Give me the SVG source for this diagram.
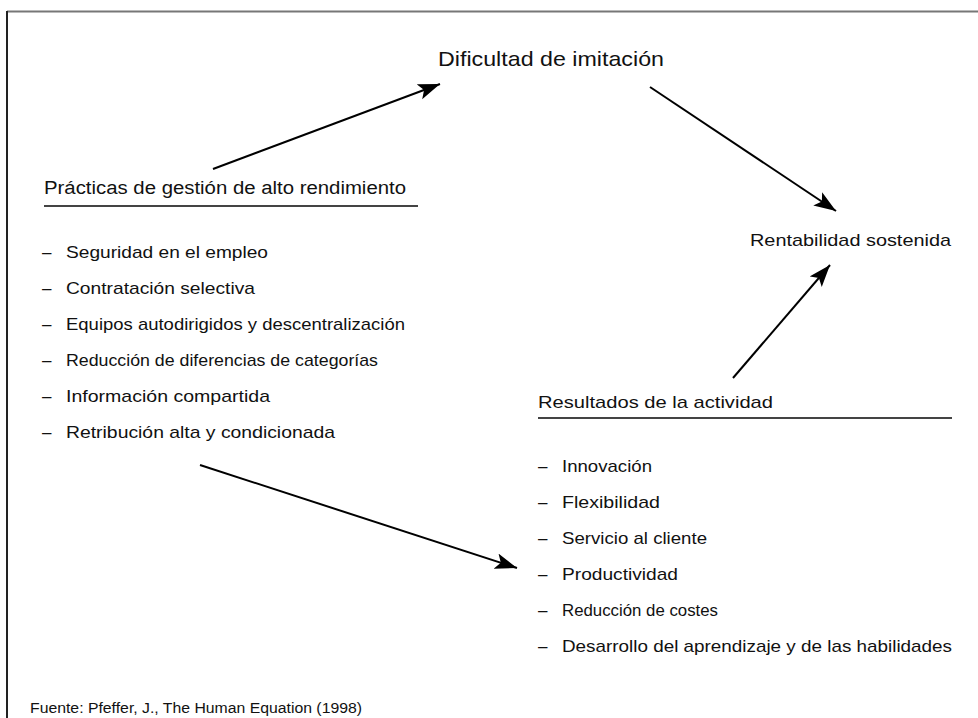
<svg xmlns="http://www.w3.org/2000/svg" width="978" height="718" viewBox="0 0 978 718">
  <defs>
    <marker id="head" markerUnits="userSpaceOnUse" markerWidth="24" markerHeight="18" refX="22" refY="8" orient="auto">
      <path d="M0,0 L22,8 L0,16 L5,8 Z" fill="#000"/>
    </marker>
    <style>
      text { font-family: "Liberation Sans", Arial, sans-serif; fill: #111; }
      .title { font-size: 21px; }
      .head { font-size: 18px; }
      .item { font-size: 17px; }
      .note { font-size: 14px; }
      .rule { stroke: #444; stroke-width: 2; }
      .conn { stroke: #000; stroke-width: 2; fill: none; marker-end: url(#head); }
    </style>
  </defs>
  <rect width="978" height="718" fill="#fff"/>

  <!-- frame -->
  <line x1="7" y1="11.5" x2="978" y2="11.5" stroke="#777" stroke-width="2"/>
  <line x1="7" y1="11" x2="7" y2="718" stroke="#222" stroke-width="2"/>

  <g id="dificultad">
    <text class="title" x="438" y="66" textLength="226" lengthAdjust="spacingAndGlyphs">Dificultad de imitación</text>
  </g>

  <g id="practicas">
    <text class="head" x="44" y="194" textLength="362" lengthAdjust="spacingAndGlyphs">Prácticas de gestión de alto rendimiento</text>
    <line class="rule" x1="44" y1="206" x2="418" y2="206"/>
    <g class="item">
      <text class="item" x="42" y="258">–</text>
      <text class="item" x="66" y="258" textLength="202" lengthAdjust="spacingAndGlyphs">Seguridad en el empleo</text>
      <text class="item" x="42" y="294">–</text>
      <text class="item" x="66" y="294" textLength="189" lengthAdjust="spacingAndGlyphs">Contratación selectiva</text>
      <text class="item" x="42" y="330">–</text>
      <text class="item" x="66" y="330" textLength="339" lengthAdjust="spacingAndGlyphs">Equipos autodirigidos y descentralización</text>
      <text class="item" x="42" y="366">–</text>
      <text class="item" x="66" y="366" textLength="312" lengthAdjust="spacingAndGlyphs">Reducción de diferencias de categorías</text>
      <text class="item" x="42" y="402">–</text>
      <text class="item" x="66" y="402" textLength="204" lengthAdjust="spacingAndGlyphs">Información compartida</text>
      <text class="item" x="42" y="438">–</text>
      <text class="item" x="66" y="438" textLength="269" lengthAdjust="spacingAndGlyphs">Retribución alta y condicionada</text>
    </g>
  </g>

  <g id="rentabilidad">
    <text class="item" x="750" y="246" textLength="201" lengthAdjust="spacingAndGlyphs">Rentabilidad sostenida</text>
  </g>

  <g id="resultados">
    <text class="item" x="538" y="408" textLength="235" lengthAdjust="spacingAndGlyphs">Resultados de la actividad</text>
    <line class="rule" x1="538" y1="418" x2="952" y2="418"/>
    <text class="item" x="538" y="472">–</text>
    <text class="item" x="562" y="472" textLength="90" lengthAdjust="spacingAndGlyphs">Innovación</text>
    <text class="item" x="538" y="508">–</text>
    <text class="item" x="562" y="508" textLength="98" lengthAdjust="spacingAndGlyphs">Flexibilidad</text>
    <text class="item" x="538" y="544">–</text>
    <text class="item" x="562" y="544" textLength="145" lengthAdjust="spacingAndGlyphs">Servicio al cliente</text>
    <text class="item" x="538" y="580">–</text>
    <text class="item" x="562" y="580" textLength="116" lengthAdjust="spacingAndGlyphs">Productividad</text>
    <text class="item" x="538" y="616">–</text>
    <text class="item" x="562" y="616" textLength="156" lengthAdjust="spacingAndGlyphs">Reducción de costes</text>
    <text class="item" x="538" y="652">–</text>
    <text class="item" x="562" y="652" textLength="390" lengthAdjust="spacingAndGlyphs">Desarrollo del aprendizaje y de las habilidades</text>
  </g>

  <g id="connectors">
    <line class="conn" x1="213" y1="169" x2="440" y2="84"/>
    <line class="conn" x1="650" y1="87" x2="836" y2="211"/>
    <line class="conn" x1="733" y1="378" x2="830" y2="265"/>
    <line class="conn" x1="200" y1="465" x2="517" y2="568"/>
  </g>

  <text class="note" x="30" y="713" textLength="332" lengthAdjust="spacingAndGlyphs">Fuente: Pfeffer, J., The Human Equation (1998)</text>
</svg>
